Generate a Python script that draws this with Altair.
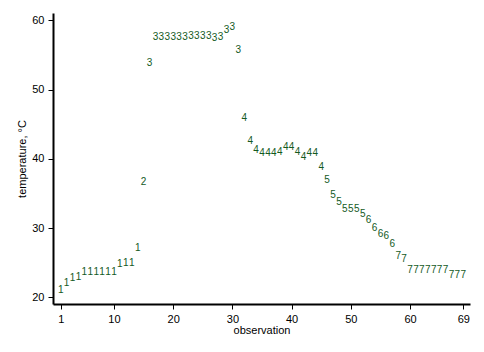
import altair as alt
import pandas as pd

observation = [1, 2, 3, 4, 5, 6, 7, 8, 9, 10, 11, 12, 13, 14, 15, 16, 17, 18, 19, 20,
               21, 22, 23, 24, 25, 26, 27, 28, 29, 30, 31, 32, 33, 34, 35, 36, 37, 38, 39, 40,
               41, 42, 43, 44, 45, 46, 47, 48, 49, 50, 51, 52, 53, 54, 55, 56, 57, 58, 59, 60,
               61, 62, 63, 64, 65, 66, 67, 68, 69]
group = [1, 1, 1, 1, 1, 1, 1, 1, 1, 1, 1, 1, 1, 1,
         2,
         3, 3, 3, 3, 3, 3, 3, 3, 3, 3, 3, 3, 3, 3, 3, 3,
         4, 4, 4, 4, 4, 4, 4, 4, 4, 4, 4, 4, 4, 4,
         5, 5, 5, 5, 5, 5, 5,
         6, 6, 6, 6, 6,
         7, 7, 7, 7, 7, 7, 7, 7, 7, 7, 7, 7]
temperature = [21.0, 22.0, 22.8, 22.9, 23.7, 23.7, 23.7, 23.7, 23.7, 23.7, 24.8, 24.9, 25.0, 27.1,
               36.7,
               53.9, 57.6, 57.6, 57.6, 57.6, 57.6, 57.6, 57.8, 57.8, 57.8, 57.8, 57.4, 57.6, 58.6, 59.0, 55.7,
               45.9, 42.6, 41.3, 40.9, 40.9, 40.9, 41.0, 41.7, 41.7, 41.0, 40.3, 40.9, 40.9, 38.8,
               37.0, 34.8, 33.7, 32.7, 32.7, 32.7, 32.0,
               31.1, 30.0, 29.1, 28.9, 27.7,
               26.0, 25.5, 24.0, 24.0, 24.0, 24.0, 24.0, 24.0, 24.0, 23.2, 23.2, 23.2]
x_ticks = [1, 10, 20, 30, 40, 50, 60, 69]
y_ticks = [20, 30, 40, 50, 60]

df = pd.DataFrame({"observation": observation, "group": [str(g) for g in group],
                   "temperature": temperature})

FONT = "Liberation Sans"

chart = alt.Chart(df).mark_text(
    font=FONT, fontSize=10, color="#145a1e", align="center", baseline="middle"
).encode(
    x=alt.X("observation:Q",
            scale=alt.Scale(domain=[-0.3, 70.13], nice=False, zero=False),
            axis=alt.Axis(values=x_ticks, title="observation", grid=False,
                          labelFlush=False, labelOverlap=False,
                          titlePadding=0)),
    y=alt.Y("temperature:Q",
            scale=alt.Scale(domain=[19.03, 61.07], nice=False, zero=False),
            axis=alt.Axis(values=y_ticks, title="temperature, °C", grid=False,
                          labelFlush=False, labelOverlap=False,
                          titlePadding=4)),
    text="group:N",
).properties(
    width=417, height=291,
    autosize=alt.AutoSizeParams(type="none"),
    padding={"left": 53, "top": 13, "right": 14, "bottom": 48},
    background="white",
).configure_view(
    strokeWidth=0
).configure_axis(
    domainColor="black", domainWidth=2, tickColor="black", tickWidth=1, tickSize=5,
    labelColor="black", labelFont=FONT, labelFontSize=11, labelPadding=4,
    titleColor="black", titleFont=FONT, titleFontSize=11, titleFontWeight="normal",
)

chart.save("out.html", embed_options={"renderer": "svg", "actions": False})
